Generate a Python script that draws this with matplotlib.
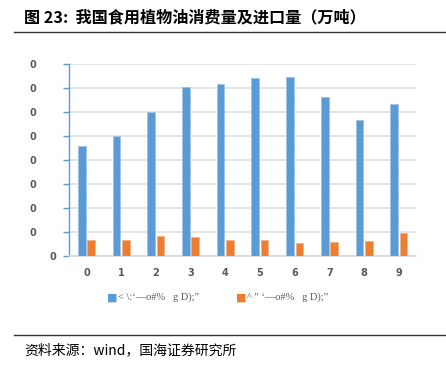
import numpy as np
import matplotlib
matplotlib.use('Agg')
import matplotlib.pyplot as plt
from matplotlib.lines import Line2D

plt.rcParams['font.family'] = ['Noto Sans CJK SC', 'DejaVu Sans']

# data (万吨)
years = ['0', '1', '2', '3', '4', '5', '6', '7', '8', '9']
consumption = [2300, 2490, 3000, 3515, 3585, 3705, 3730, 3315, 2835, 3175]
imports = [340, 325, 425, 400, 325, 335, 270, 285, 310, 470]
yticks = [0, 500, 1000, 1500, 2000, 2500, 3000, 3500, 4000]
ytick_labels = ['0'] + ['0      '] * 8
legend_labels = ['< \\:\u2018\u2014o#%   g D);\u201d', '^ " \u2018\u2014o#%   g D);\u201d']

blue = '#5b9bd5'
orange = '#ed7d31'

fig = plt.figure(figsize=(4.46, 3.67), dpi=100)
ax = fig.add_axes([0.155, 0.3025, 0.778, 0.523])

x = np.arange(len(years))
w = 0.22
ax.bar(x - 0.135, consumption, w, color=blue, edgecolor='#9dc3e6', linewidth=0.6, zorder=3)
ax.bar(x + 0.135, imports, w, color=orange, edgecolor='#f4b183', linewidth=0.6, zorder=3)

ax.set_xlim(-0.5, len(years) - 0.5)
ax.set_ylim(0, 4000)
ax.set_yticks(yticks)
ax.set_yticklabels(ytick_labels, fontsize=7, fontweight='bold', color='#595959',
                   family='DejaVu Sans')
ax.set_xticks(x)
ax.set_xticklabels(years, fontsize=7, fontweight='bold', color='#595959',
                   family='DejaVu Sans')
ax.tick_params(axis='x', length=0, pad=9)
ax.tick_params(axis='y', length=4, width=1, color=blue, pad=5)
ax.yaxis.grid(True, color='#e0e0e0', linewidth=1.2, zorder=0)
ax.set_axisbelow(True)
for s in ['top', 'right']:
    ax.spines[s].set_visible(False)
ax.spines['left'].set_color(blue)
ax.spines['left'].set_linewidth(1)
ax.spines['bottom'].set_color('#d9d9d9')
ax.spines['bottom'].set_linewidth(1.2)

# legend
fig.text(0.24, 0.19, '\u25a0', color=blue, fontsize=8, va='center', ha='left', family='DejaVu Sans')
fig.text(0.264, 0.19, legend_labels[0], color='#595959', fontsize=7.5, va='center',
         ha='left', family='Liberation Serif')
fig.text(0.53, 0.19, '\u25a0', color=orange, fontsize=8, va='center', ha='left', family='DejaVu Sans')
fig.text(0.554, 0.19, legend_labels[1], color='#595959', fontsize=7.5, va='center',
         ha='left', family='Liberation Serif')

# title and source
fig.text(0.054, 0.953, '图 23:  我国食用植物油消费量及进口量（万吨）', fontsize=11.6,
         fontweight='bold', va='center', ha='left', color='black')
fig.add_artist(Line2D([0.031, 1.0], [0.913, 0.913], color='#333333', linewidth=1.0))
fig.add_artist(Line2D([0.031, 1.0], [0.087, 0.087], color='#333333', linewidth=1.0))
fig.text(0.054, 0.046, '资料来源：wind，国海证券研究所', fontsize=10, va='center',
         ha='left', color='black')

fig.savefig('out.png', dpi=100)
